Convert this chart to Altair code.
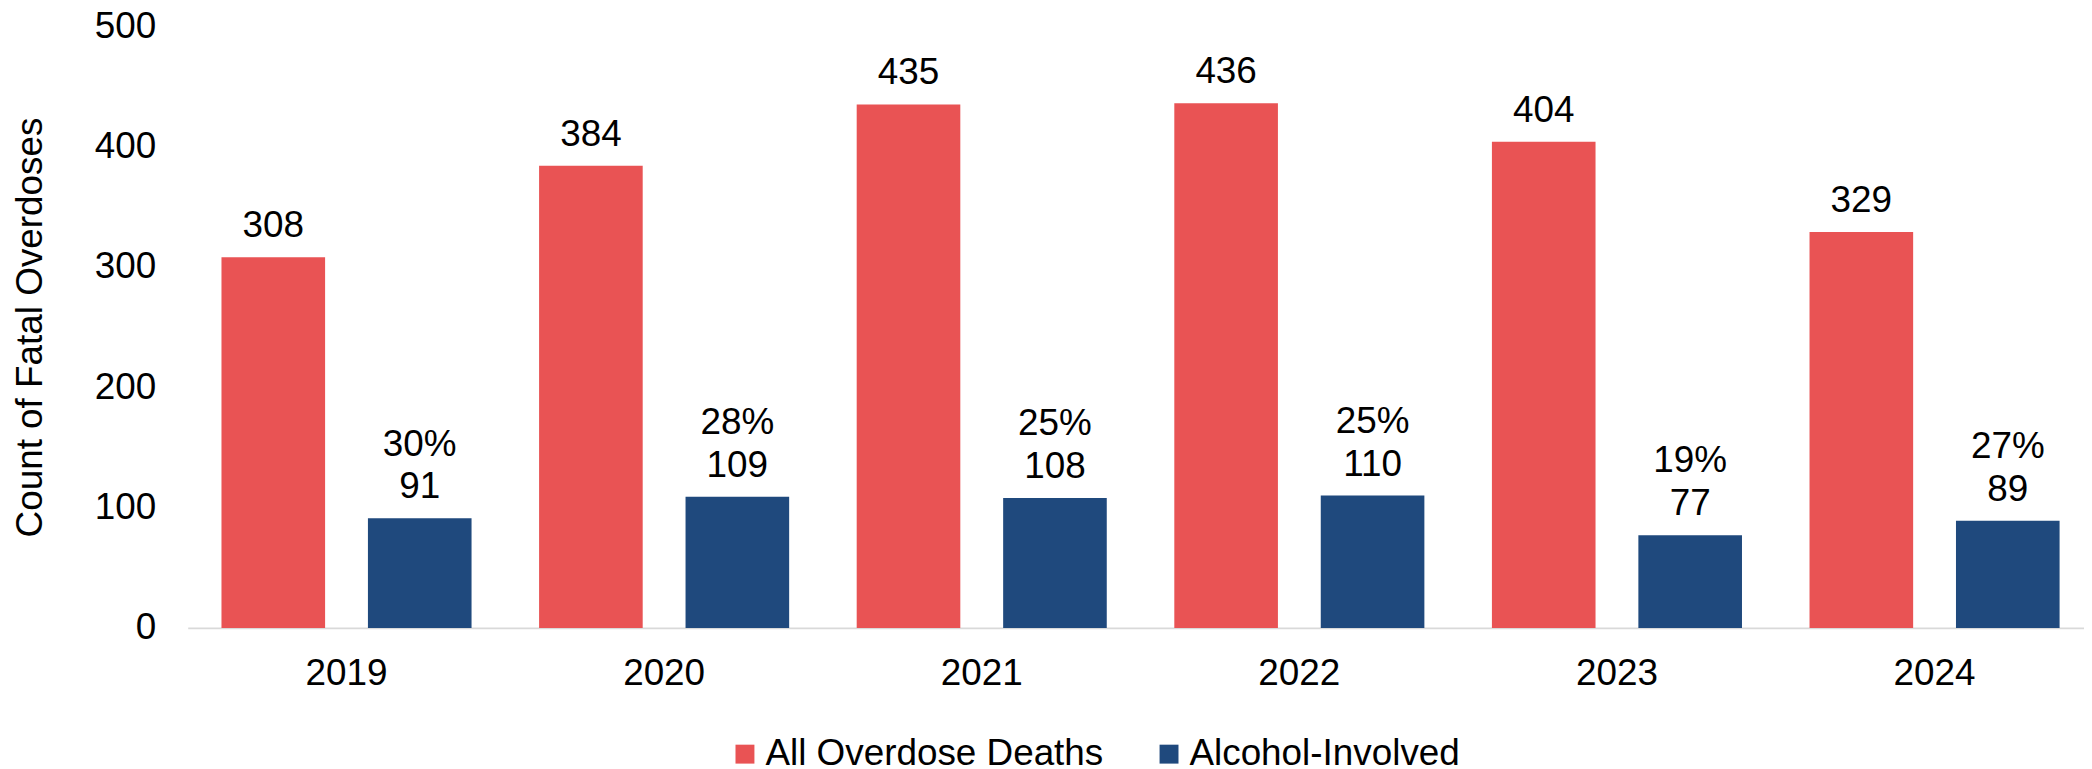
import altair as alt
import pandas as pd

years = ["2019", "2020", "2021", "2022", "2023", "2024"]
all_deaths = [308, 384, 435, 436, 404, 329]
alcohol = [91, 109, 108, 110, 77, 89]
alcohol_pct = ["30%", "28%", "25%", "25%", "19%", "27%"]
series_names = ["All Overdose Deaths", "Alcohol-Involved"]
colors = ["#E95354", "#1F497D"]

rows = []
for i, yr in enumerate(years):
    rows.append({"year": yr, "series": series_names[0], "count": all_deaths[i], "pct": ""})
    rows.append({"year": yr, "series": series_names[1], "count": alcohol[i], "pct": alcohol_pct[i]})
df = pd.DataFrame(rows)

FONT = "Liberation Sans"
FS = 37

x = alt.X(
    "year:N", sort=years, title=None,
    scale=alt.Scale(paddingInner=0, paddingOuter=0, range=[0, 1913]),
    axis=alt.Axis(labelAngle=0, labelFontSize=FS, labelFont=FONT, labelColor="#000000",
                  labelBaseline="alphabetic", labelPadding=57, ticks=False, tickSize=0,
                  domainColor="#D9D9D9", domainWidth=2, grid=False),
)
xo = alt.XOffset("series:N", sort=series_names,
                 scale=alt.Scale(domain=series_names, paddingInner=0.2925, paddingOuter=0.2306))
y = alt.Y(
    "count:Q",
    scale=alt.Scale(domain=[0, 500], nice=False),
    axis=alt.Axis(values=[0, 100, 200, 300, 400, 500], labelFontSize=FS, labelFont=FONT,
                  labelColor="#000000", labelPadding=32, ticks=False, tickSize=0, domain=False,
                  grid=False, title="Count of Fatal Overdoses", titleFont=FONT, titleFontSize=37,
                  titleFontWeight="normal", titleColor="#000000", titleAngle=270,
                  titleAlign="center", titleBaseline="alphabetic", titleX=-146.7, titleY=302),
)
color = alt.Color(
    "series:N", sort=series_names,
    scale=alt.Scale(domain=series_names, range=colors),
    legend=alt.Legend(orient="none", legendX=540.9, legendY=712, direction="horizontal",
                      title=None, symbolType="square", symbolSize=361, symbolStrokeWidth=0,
                      labelFontSize=FS, labelFont=FONT, labelColor="#000000", labelLimit=1000,
                      columnPadding=46.7, labelOffset=2),
)

base = alt.Chart(df)
bars = base.mark_bar().encode(x=x, xOffset=xo, y=y, color=color)
counts = base.mark_text(dy=-20, baseline="alphabetic", fontSize=FS, font=FONT, color="#000000").encode(
    x=x, xOffset=xo, y=y, text="count:Q")
pcts = base.transform_filter(alt.datum.series == series_names[1]).mark_text(
    dy=-63, baseline="alphabetic", fontSize=FS, font=FONT, color="#000000").encode(
    x=x, xOffset=xo, y=y, text="pct:N")

chart = alt.layer(bars, counts, pcts).properties(
    width=1903.6, height=604,
    padding={"left": 180.4, "top": 16.8, "right": 0, "bottom": 140.2},
    autosize=alt.AutoSizeParams(type="none"),
    background="#FFFFFF",
).configure_view(stroke=None)

chart.save("out.html", embed_options={"renderer": "svg", "actions": False})
